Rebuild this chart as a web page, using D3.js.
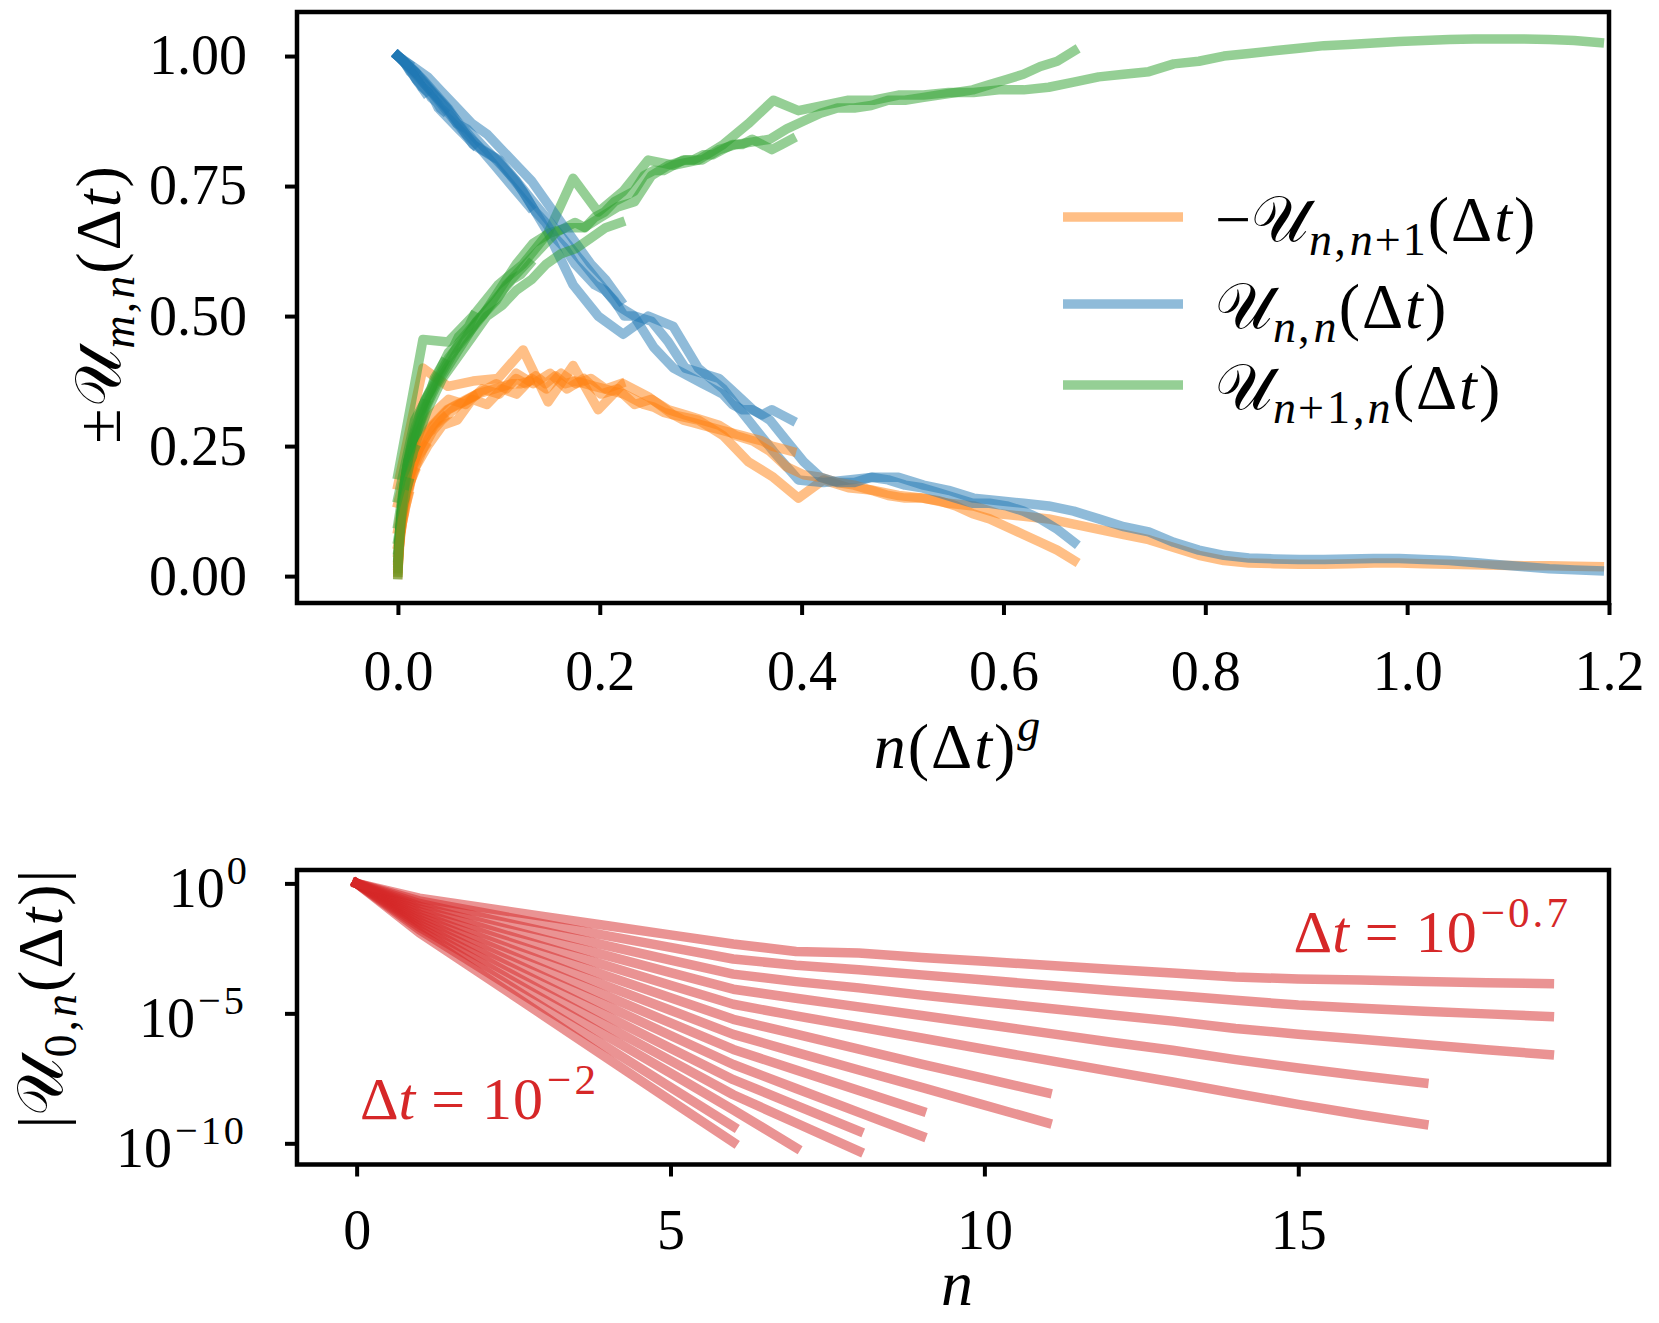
<!DOCTYPE html>
<html><head><meta charset="utf-8">
<script src="https://cdn.jsdelivr.net/npm/d3@7"></script>
<style>
body{margin:0;background:#fff}
svg{display:block}
text{font-family:"Liberation Serif","DejaVu Serif",serif}
</style>
</head><body>
<svg id="c" width="1659" height="1323"></svg>
<script>
// ---------------- DATA ----------------
// Top panel: x = n * (Δt)^g for each Δt series
const topDtg = [0.0248, 0.01675, 0.00975, 0.0147, 0.0087, 0.005, 0.003, 0.0018, 0.0011, 0.0007];

const orangeVals = [
 [0.175,0.40,0.365,0.375,0.38,0.435,0.335,0.405,0.32,0.37,0.345,0.31,0.30,0.27,0.22,0.19,0.15,0.185,0.17,0.165,0.155,0.15,0.14,0.135,0.12,0.115,0.11,0.10,0.09,0.08,0.07,0.055,0.04,0.03,0.025,0.024,0.023,0.023,0.024,0.025,0.025,0.024,0.023,0.022,0.021,0.02,0.02,0.019,0.018],
 [0.14,0.27,0.31,0.34,0.33,0.36,0.35,0.39,0.37,0.39,0.36,0.38,0.35,0.36,0.33,0.34,0.32,0.31,0.30,0.29,0.27,0.26,0.24,0.21,0.195,0.19,0.18,0.175,0.165,0.155,0.15,0.15,0.145,0.135,0.12,0.11,0.095,0.08,0.065,0.05,0.03],
 [0.09,0.20,0.25,0.28,0.30,0.32,0.33,0.34,0.35,0.36,0.37,0.36,0.38,0.37,0.385,0.37,0.385,0.37,0.375,0.37,0.365,0.36,0.355,0.35,0.34,0.33,0.325,0.315,0.31,0.30,0.295,0.29,0.285,0.28,0.275,0.27,0.265,0.26,0.25,0.245,0.24],
 [0.06,0.20,0.25,0.29,0.30,0.34,0.33,0.36,0.35,0.38,0.36,0.39,0.37,0.38,0.36,0.37],
 [0.045,0.16,0.21,0.25,0.28,0.30,0.315,0.33,0.34,0.35,0.355,0.36,0.365,0.37,0.37,0.375],
 [0.03,0.13,0.18,0.215,0.24,0.26,0.275,0.29,0.30,0.31,0.32,0.325,0.33,0.335,0.34,0.345],
 [0.02,0.10,0.14,0.17,0.195,0.215,0.23,0.245,0.255,0.265,0.275,0.28,0.29,0.295,0.30,0.305],
 [0.012,0.07,0.11,0.135,0.155,0.17,0.185,0.195,0.205,0.215,0.22,0.23,0.235,0.24,0.245,0.25],
 [0.007,0.05,0.08,0.10,0.115,0.13,0.14,0.15,0.16,0.165,0.17,0.18,0.185,0.19,0.195,0.20],
 [0.003,0.03,0.05,0.065,0.08,0.09,0.10,0.11,0.115,0.12,0.13,0.135,0.14,0.145,0.15,0.155]
];
const blueVals = [
 [1.0,0.955,0.90,0.83,0.80,0.74,0.66,0.56,0.50,0.465,0.50,0.48,0.40,0.36,0.30,0.24,0.185,0.18,0.185,0.19,0.19,0.175,0.165,0.15,0.145,0.14,0.135,0.125,0.11,0.095,0.085,0.065,0.05,0.04,0.035,0.033,0.032,0.032,0.033,0.034,0.034,0.032,0.03,0.026,0.022,0.018,0.014,0.012,0.01],
 [1.0,0.97,0.93,0.89,0.85,0.82,0.80,0.76,0.72,0.68,0.64,0.60,0.56,0.52,0.50,0.49,0.45,0.40,0.39,0.38,0.35,0.32,0.30,0.26,0.22,0.19,0.18,0.18,0.19,0.185,0.175,0.17,0.16,0.15,0.14,0.14,0.135,0.125,0.11,0.09,0.065],
 [1.0,0.98,0.96,0.94,0.92,0.90,0.87,0.86,0.84,0.82,0.80,0.78,0.76,0.73,0.70,0.68,0.65,0.63,0.60,0.58,0.56,0.55,0.53,0.50,0.50,0.47,0.44,0.42,0.40,0.39,0.38,0.37,0.36,0.35,0.33,0.32,0.32,0.31,0.32,0.31,0.30],
 [1.0,0.98,0.96,0.93,0.90,0.87,0.85,0.82,0.79,0.76,0.72,0.68,0.64,0.60,0.57,0.53],
 [1.0,0.985,0.97,0.95,0.93,0.91,0.89,0.87,0.85,0.83,0.81,0.79,0.77,0.75,0.73,0.71],
 [1.0,0.99,0.98,0.965,0.95,0.94,0.93,0.92,0.90,0.89,0.88,0.87,0.86,0.85,0.84,0.83],
 [1.0,0.995,0.99,0.98,0.97,0.965,0.955,0.95,0.94,0.935,0.93,0.92,0.915,0.91,0.90,0.895],
 [1.0,0.997,0.993,0.99,0.985,0.98,0.975,0.97,0.965,0.96,0.955,0.95,0.945,0.94,0.935,0.93],
 [1.0,0.998,0.996,0.994,0.992,0.99,0.988,0.986,0.984,0.982,0.98,0.978,0.976,0.974,0.972,0.97],
 [1.0,0.999,0.998,0.997,0.996,0.995,0.994,0.993,0.992,0.991,0.99,0.989,0.988,0.987,0.986,0.985]
];
const greenVals = [
 [0.195,0.455,0.45,0.50,0.56,0.60,0.66,0.765,0.70,0.74,0.80,0.79,0.80,0.83,0.87,0.915,0.895,0.905,0.915,0.915,0.925,0.925,0.93,0.93,0.935,0.935,0.94,0.95,0.96,0.965,0.97,0.985,0.99,1.0,1.005,1.01,1.015,1.02,1.022,1.025,1.028,1.03,1.032,1.033,1.033,1.033,1.032,1.03,1.026],
 [0.15,0.30,0.36,0.42,0.46,0.50,0.55,0.60,0.64,0.66,0.67,0.67,0.69,0.71,0.72,0.77,0.79,0.80,0.80,0.82,0.83,0.835,0.84,0.86,0.875,0.89,0.90,0.90,0.905,0.915,0.915,0.92,0.925,0.93,0.935,0.945,0.955,0.965,0.98,0.99,1.01],
 [0.10,0.22,0.28,0.33,0.37,0.40,0.43,0.46,0.49,0.51,0.53,0.56,0.58,0.60,0.62,0.64,0.66,0.67,0.68,0.67,0.69,0.70,0.72,0.73,0.74,0.77,0.78,0.78,0.79,0.80,0.80,0.81,0.81,0.82,0.83,0.83,0.84,0.83,0.82,0.83,0.84],
 [0.07,0.24,0.32,0.38,0.42,0.46,0.50,0.52,0.55,0.57,0.60,0.62,0.63,0.65,0.67,0.68],
 [0.05,0.20,0.27,0.32,0.36,0.39,0.42,0.45,0.47,0.49,0.51,0.53,0.55,0.57,0.58,0.60],
 [0.035,0.16,0.22,0.26,0.30,0.33,0.35,0.37,0.39,0.41,0.43,0.44,0.46,0.47,0.48,0.50],
 [0.025,0.12,0.17,0.21,0.24,0.27,0.29,0.31,0.32,0.34,0.35,0.36,0.38,0.39,0.40,0.41],
 [0.015,0.09,0.13,0.16,0.19,0.21,0.23,0.245,0.26,0.27,0.28,0.29,0.30,0.31,0.32,0.33],
 [0.008,0.06,0.09,0.12,0.14,0.155,0.17,0.18,0.19,0.20,0.21,0.22,0.225,0.23,0.24,0.245],
 [0.003,0.04,0.06,0.08,0.095,0.11,0.12,0.13,0.14,0.145,0.15,0.16,0.165,0.17,0.175,0.18]
];

const topXTicks = [0.0, 0.2, 0.4, 0.6, 0.8, 1.0, 1.2];
const topYTicks = [0.00, 0.25, 0.50, 0.75, 1.00];

// Bottom panel: log10 |U_{0,n}(Δt)| for Δt = 10^-2 ... 10^-0.7, n = 0,1,2,...
const dtExponents = [-2.0,-1.9,-1.8,-1.7,-1.6,-1.5,-1.4,-1.3,-1.2,-1.1,-1.0,-0.9,-0.8,-0.7];
const logU0n = [
 [0,-1.9,-3.51,-5.12,-6.74,-8.35,-9.96],
 [0,-1.78,-3.29,-4.81,-6.32,-7.84,-9.35],
 [0,-1.68,-3.09,-4.49,-5.9,-7.3,-8.71,-10.17],
 [0,-1.58,-2.89,-4.2,-5.51,-6.82,-8.13,-9.22,-10.3],
 [0,-1.48,-2.69,-3.91,-5.12,-6.34,-7.55,-8.54,-9.53],
 [0,-1.38,-2.5,-3.62,-4.73,-5.85,-6.97,-7.89,-8.81,-9.72],
 [0,-1.28,-2.3,-3.33,-4.35,-5.37,-6.39,-7.18,-7.97,-8.76],
 [0,-1.18,-2.11,-3.03,-3.96,-4.88,-5.81,-6.5,-7.18,-7.85,-8.53,-9.21],
 [0,-1.08,-1.91,-2.74,-3.57,-4.4,-5.23,-5.8,-6.38,-6.95,-7.5,-8.06],
 [0,-0.98,-1.71,-2.45,-3.18,-3.92,-4.65,-5.1,-5.52,-5.95,-6.38,-6.8,-7.22,-7.64,-8.08,-8.5,-8.9,-9.27],
 [0,-0.88,-1.52,-2.16,-2.79,-3.43,-4.07,-4.42,-4.75,-5.08,-5.42,-5.76,-6.1,-6.42,-6.78,-7.1,-7.4,-7.68],
 [0,-0.77,-1.31,-1.86,-2.4,-2.95,-3.49,-3.78,-4.02,-4.3,-4.55,-4.8,-5.05,-5.3,-5.58,-5.8,-6.0,-6.2,-6.4,-6.59],
 [0,-0.67,-1.12,-1.57,-2.02,-2.46,-2.91,-3.15,-3.32,-3.52,-3.72,-3.92,-4.12,-4.3,-4.5,-4.68,-4.8,-4.92,-5.02,-5.12],
 [0,-0.57,-0.93,-1.28,-1.63,-1.98,-2.33,-2.62,-2.68,-2.85,-3.0,-3.15,-3.3,-3.45,-3.6,-3.68,-3.72,-3.77,-3.82,-3.86]
];
const botXTicks = [0, 5, 10, 15];
const botYTickExp = [0, -5, -10];

// ---------------- DRAW ----------------
const FS = 56;     // tick labels
const FM = 64;     // math labels / legend
const FA = 60;     // annotations
const C_OR = '#ff7f0e', C_BL = '#1f77b4', C_GR = '#2ca02c', C_RD = '#d62728';
const svg = d3.select('#c');
svg.append('rect').attr('width',1659).attr('height',1323).attr('fill','#fff');

const TOP = {l:297, r:1609, t:12, b:603};
const BOT = {l:297, r:1609, t:870, b:1164.5};
const xT = d3.scaleLinear().domain([-0.1, 1.2]).range([TOP.l, TOP.r]);
const yT = d3.scaleLinear().domain([-0.0517, 1.0847]).range([TOP.b, TOP.t]);
const xB = d3.scaleLinear().domain([-0.95, 19.95]).range([BOT.l, BOT.r]);
const yB = d3.scaleLog().domain([Math.pow(10,-10.815), Math.pow(10,0.515)]).range([BOT.b, BOT.t]);

const defs = svg.append('defs');
defs.append('clipPath').attr('id','clipT').append('rect')
  .attr('x',TOP.l).attr('y',TOP.t).attr('width',TOP.r-TOP.l).attr('height',TOP.b-TOP.t);
defs.append('clipPath').attr('id','clipB').append('rect')
  .attr('x',BOT.l).attr('y',BOT.t).attr('width',BOT.r-BOT.l).attr('height',BOT.b-BOT.t);

// math text helper
function mathText(parent, x, y, parts, size, opt) {
  opt = opt || {};
  const t = parent.append('text').attr('x', x).attr('y', y)
    .attr('font-size', size).attr('text-anchor', opt.anchor || 'start')
    .attr('fill', opt.fill || '#000');
  let cur = 0;
  parts.forEach(p => {
    const lvl = p.s || 0;
    const fs = lvl === 0 ? size : size * 0.72;
    const target = lvl === 0 ? 0 : (lvl < 0 ? size * 0.22 : -size * 0.42);
    const ts = t.append('tspan').attr('font-size', fs).attr('dy', target - cur).text(p.t);
    if (p.i) ts.attr('font-style', 'italic');
    if (p.dx) ts.attr('dx', p.dx);
    if (p.f) ts.attr('font-family', p.f);
    if (p.ls) ts.attr('letter-spacing', p.ls);
    cur = target;
  });
  return t;
}
const CAL = '"DejaVu Serif","DejaVu Sans","Noto Sans",serif';
const U = {t:'\u{1D4B0}', f: CAL};

// --- top panel lines ---
const gT = svg.append('g').attr('clip-path','url(#clipT)');
const lineT = d3.line().x(d => xT(d[0])).y(d => yT(d[1]));
topDtg.forEach((h, i) => {
  [[orangeVals, C_OR], [blueVals, C_BL], [greenVals, C_GR]].forEach(([arr, col]) => {
    const pts = arr[i].map((v, n) => [n * h, v]);
    gT.append('path').attr('d', lineT(pts)).attr('fill','none')
      .attr('stroke', col).attr('stroke-opacity', 0.5).attr('stroke-width', 9.5)
      .attr('stroke-linejoin','round').attr('stroke-linecap','square');
  });
});

// --- bottom panel lines ---
const gB = svg.append('g').attr('clip-path','url(#clipB)');
const lineB = d3.line().x(d => xB(d[0])).y(d => yB(d[1]));
logU0n.forEach(arr => {
  const pts = arr.map((e, n) => [n, Math.pow(10, e)]);
  gB.append('path').attr('d', lineB(pts)).attr('fill','none')
    .attr('stroke', C_RD).attr('stroke-opacity', 0.5).attr('stroke-width', 9.5)
    .attr('stroke-linejoin','round').attr('stroke-linecap','square');
});

// --- axes ---
function styleAxis(g) {
  g.select('.domain').remove();
  g.selectAll('.tick line').attr('stroke','#000').attr('stroke-width',4);
  g.selectAll('.tick text').attr('font-size', FS).attr('fill','#000')
    .attr('font-family','"Liberation Serif","DejaVu Serif",serif');
}
svg.append('g').attr('transform',`translate(0,${TOP.b})`)
  .call(d3.axisBottom(xT).tickValues(topXTicks).tickFormat(d3.format('.1f')).tickSize(12).tickPadding(35))
  .call(styleAxis);
svg.append('g').attr('transform',`translate(${TOP.l},0)`)
  .call(d3.axisLeft(yT).tickValues(topYTicks).tickFormat(d3.format('.2f')).tickSize(12).tickPadding(38))
  .call(styleAxis);
svg.append('g').attr('transform',`translate(0,${BOT.b})`)
  .call(d3.axisBottom(xB).tickValues(botXTicks).tickFormat(d3.format('d')).tickSize(12).tickPadding(33))
  .call(styleAxis);
svg.append('g').attr('transform',`translate(${BOT.l},0)`)
  .call(d3.axisLeft(yB).tickValues(botYTickExp.map(e => Math.pow(10, e))).tickFormat(() => '').tickSize(12))
  .call(styleAxis);
botYTickExp.forEach(e => {
  const y = yB(Math.pow(10, e));
  const parts = [{t:'10'}];
  if (e < 0) parts.push({t:'\u2212' + Math.abs(e), s:1, dx:3, ls:3});
  else parts.push({t:String(e), s:1, dx:2});
  mathText(svg, BOT.l - 50, y + 24, parts, FS, {anchor:'end'});
});

// spines
[TOP, BOT].forEach(P => {
  svg.append('rect').attr('x',P.l).attr('y',P.t).attr('width',P.r-P.l).attr('height',P.b-P.t)
    .attr('fill','none').attr('stroke','#000').attr('stroke-width',4.5);
});

// axis labels
mathText(svg, 957, 768,
  [{t:'n',i:true,ls:2},{t:'(\u0394',ls:2},{t:'t',i:true,ls:2},{t:')',ls:2},{t:'g',i:true,s:1}], FM, {anchor:'middle'});
mathText(svg, 957, 1305, [{t:'n',i:true}], FM, {anchor:'middle'});

const gyl = svg.append('g').attr('transform','translate(120,305) rotate(-90)');
mathText(gyl, 0, 0, [{t:'\u00B1',ls:2}, U, {t:'m',i:true,s:-1,ls:2},{t:',',s:-1,ls:3},{t:'n',i:true,s:-1,ls:2},{t:'(\u0394',ls:2},{t:'t',i:true,ls:2},{t:')'}], FM, {anchor:'middle'});
const gyl2 = svg.append('g').attr('transform','translate(62,998) rotate(-90)');
mathText(gyl2, 0, 0, [{t:'|'}, U, {t:'0,',s:-1,ls:3},{t:'n',i:true,s:-1,ls:2},{t:'(\u0394',ls:2},{t:'t',i:true,ls:2},{t:')|',ls:2}], FM, {anchor:'middle'});

// legend
const legend = [
  {c:C_OR, y:217, parts:[{t:'\u2212'}, U, {t:'n',i:true,s:-1,ls:2},{t:',',s:-1,ls:4},{t:'n',i:true,s:-1,ls:2},{t:'+1',s:-1,ls:2},{t:'(\u0394',ls:2},{t:'t',i:true,ls:2},{t:')'}]},
  {c:C_BL, y:304, parts:[U, {t:'n',i:true,s:-1,ls:2},{t:',',s:-1,ls:4},{t:'n',i:true,s:-1,ls:2},{t:'(\u0394',ls:2},{t:'t',i:true,ls:2},{t:')'}]},
  {c:C_GR, y:385, parts:[U, {t:'n',i:true,s:-1,ls:2},{t:'+1,',s:-1,ls:3},{t:'n',i:true,s:-1,ls:2},{t:'(\u0394',ls:2},{t:'t',i:true,ls:2},{t:')'}]}
];
legend.forEach(L => {
  svg.append('line').attr('x1',1063).attr('x2',1183).attr('y1',L.y).attr('y2',L.y)
    .attr('stroke',L.c).attr('stroke-opacity',0.5).attr('stroke-width',9.5);
  mathText(svg, 1215, L.y + 24, L.parts, FM);
});

// annotations
mathText(svg, 360, 1119, [{t:'\u0394'},{t:'t',i:true},{t:' = 10',ls:1},{t:'\u2212' + Math.abs(dtExponents[0]), s:1, dx:3, ls:3}], FA, {fill:C_RD});
mathText(svg, 1571, 952, [{t:'\u0394'},{t:'t',i:true},{t:' = 10',ls:1},{t:'\u2212' + Math.abs(dtExponents[dtExponents.length-1]), s:1, dx:3, ls:3}], FA, {fill:C_RD, anchor:'end'});
</script>
</body></html>
